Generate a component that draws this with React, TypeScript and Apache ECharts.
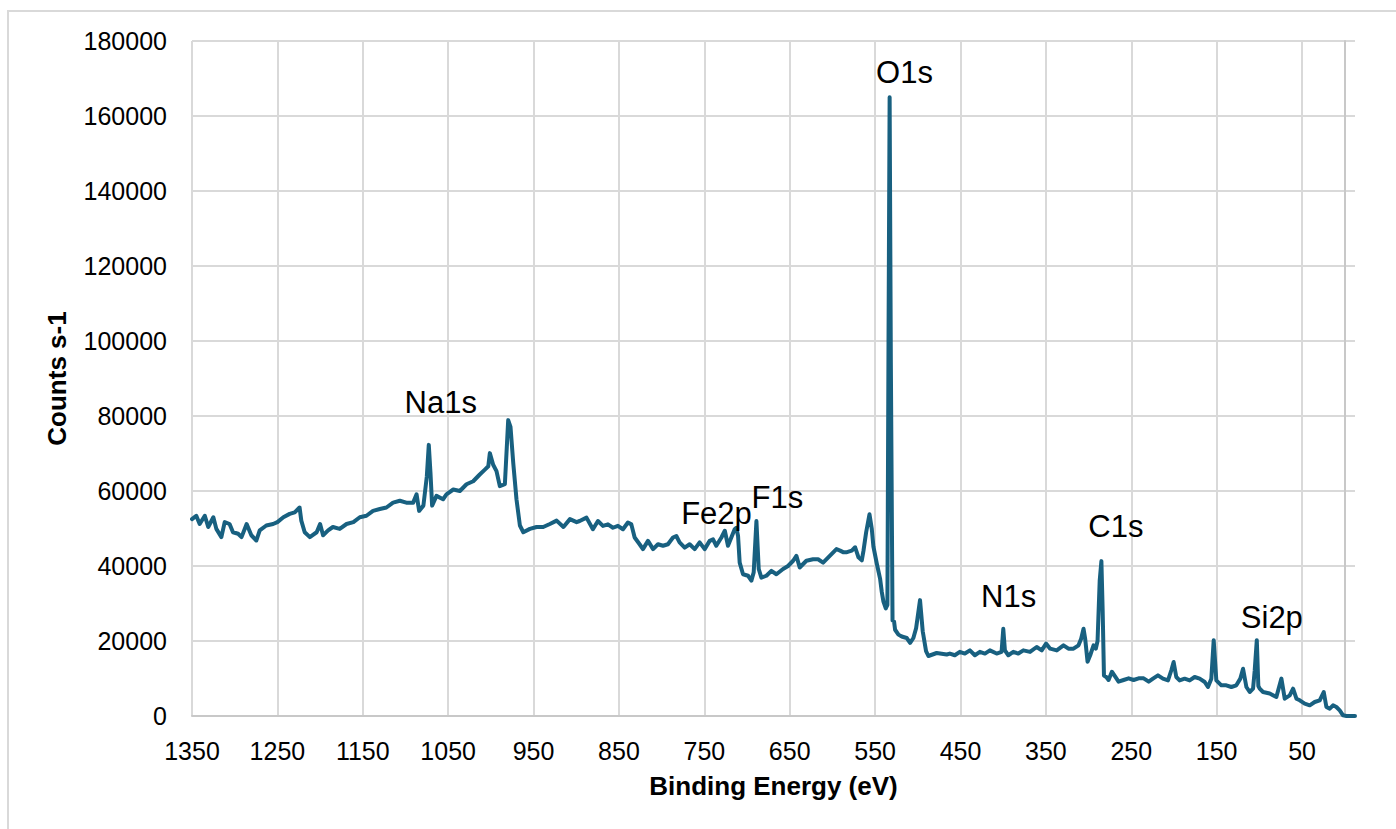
import { useEffect, useRef } from "react";
import * as echarts from "echarts";

// Binding energy (eV) and counts per second
const energyEV = [
  1350, 1345, 1341, 1335, 1331, 1325, 1321.5, 1315.6, 1311.7, 1306, 1302, 1296, 1292, 1286, 1280.5,
  1274.6, 1270.7, 1263, 1255, 1250, 1243, 1235.6, 1229.7, 1224, 1222, 1218, 1212, 1204, 1200, 1196.5,
  1190.6, 1185, 1177, 1169, 1161, 1153.5, 1145.7, 1138, 1130, 1122.3, 1114.5, 1106.6, 1099, 1091, 1087,
  1084, 1079, 1075, 1072.7, 1070.7, 1068.8, 1063.7, 1056, 1052, 1044, 1036.3, 1028.5, 1020.7, 1013, 1007,
  1003, 1001.2, 997.3, 993.4, 989.5, 983.6, 979.7, 977, 973.8, 970, 966, 962, 954.3, 946.5, 938.7,
  930.9, 923, 915, 907.4, 899.6, 896, 888, 880.5, 874.6, 868.75, 862.9, 857, 851.2, 845.3, 839.5,
  835.5, 831.6, 825.8, 821.9, 816, 810, 804.3, 798.4, 792.6, 786.7, 782.8, 779, 773, 767.2, 761.3,
  755.5, 749.6, 743.75, 739.8, 736, 730, 726, 722.3, 718.4, 714.5, 712.5, 710.5, 708.6, 704.7, 698.8,
  694.9, 692.2, 689, 686.3, 683.2, 677.3, 671.5, 665.6, 657.8, 651.95, 646, 642.2, 638.3, 630.5, 622.7,
  616.8, 610.9, 603.1, 595.3, 591, 587.5, 583, 577.3, 573.4, 569.5, 565.6, 563.6, 560.5, 556.6, 553.9,
  552, 548, 544.2, 542.2, 540.25, 537.5, 535.6, 534.3, 533, 531.6, 529.6, 527.8, 526.6, 522.7, 518.8,
  513, 509, 505.2, 502, 497.4, 494.25, 490.35, 487.6, 477.9, 466.2, 462.5, 456.7, 450.8, 444.9, 439,
  433.2, 427.3, 421.4, 415.6, 407.7, 401.9, 399.9, 398, 394, 388.2, 382.3, 376.4, 368.6, 360.8, 354.9,
  349.8, 345, 337.3, 329.4, 323.6, 317.7, 311.8, 308.7, 305.9, 304, 301.2, 298.1, 294.2, 291.5, 289.5,
  287, 285, 283.5, 282, 279.3, 276.6, 272.7, 268.8, 264.9, 259, 253.1, 247.3, 241.4, 235.5, 229.6,
  224.6, 218.75, 212.9, 207, 203.1, 200.4, 197.3, 193.4, 187.5, 181.6, 175.8, 169.9, 164, 160.2, 156.25,
  153.5, 150.4, 144.5, 138.7, 132.8, 127, 122.3, 119.1, 115.2, 111.3, 107.4, 105.5, 103, 101.2, 99.6,
  95.7, 87.9, 80.1, 74.2, 70.3, 64.45, 60.5, 56.6, 52.7, 46.9, 41, 35.2, 29.3, 24.6, 21.5,
  17.6, 13.7, 9.8, 5.9, 2, -2, -12,
];

const countsPerSecond = [
  52500, 53400, 51200, 53400, 50400, 53000, 49900, 47700, 51700, 51200, 49000, 48600, 47700, 51200, 48200,
  46800, 49500, 50800, 51200, 51700, 53000, 53900, 54300, 55600, 52100, 49000, 47700, 49000, 51200, 48200,
  49500, 50400, 49900, 51200, 51700, 53000, 53400, 54700, 55200, 55600, 56900, 57400, 56900, 56900, 59100,
  54700, 56100, 63900, 72300, 64800, 56100, 58700, 57800, 59100, 60400, 60000, 61800, 62600, 64400, 65700,
  66600, 70100, 67000, 65300, 61300, 61800, 78900, 77100, 67500, 57800, 50800, 49000, 49900, 50400, 50400,
  51200, 52100, 50400, 52500, 51700, 52000, 52900, 49800, 52000, 50700, 51100, 50200, 50700, 49800, 51600,
  51100, 47600, 45800, 44500, 46700, 44500, 45800, 45400, 45800, 47600, 48000, 46300, 44900, 45800, 44500,
  46300, 44500, 46700, 47100, 45400, 47600, 49400, 45400, 47600, 49800, 50200, 48000, 40900, 37800, 37400,
  36100, 38300, 52000, 39200, 36900, 37400, 38700, 37800, 39200, 40000, 41400, 42700, 39600, 41400, 41800,
  41800, 40900, 42700, 44500, 44100, 43700, 43700, 44100, 45000, 42300, 41500, 44100, 49000, 53800, 49900,
  45200, 40600, 36650, 33100, 30500, 28700, 29600, 100000, 165000, 95000, 25500, 25200, 23000, 21700, 21200,
  20800, 19500, 20800, 23400, 30900, 22600, 17300, 16000, 16800, 16400, 16650, 16200, 17100, 16650, 17500,
  16200, 17100, 16650, 17500, 16650, 17100, 23260, 17500, 16200, 17100, 16650, 17500, 17100, 18400, 17500,
  19300, 17950, 17500, 18850, 17950, 17950, 18850, 20600, 23260, 20600, 14450, 16200, 18850, 17950, 20000,
  36000, 41300, 28000, 10800, 10400, 9600, 11800, 10500, 9150, 9600, 10050, 9600, 10050, 10050, 9150,
  9960, 10850, 9960, 9500, 12200, 14400, 10400, 9500, 9960, 9500, 10400, 9960, 9070, 7730, 9960,
  20200, 9500, 8180, 8180, 7730, 8180, 9960, 12600, 7730, 6400, 7290, 12000, 20200, 8000, 7290,
  6400, 6000, 5070, 9960, 4620, 5510, 7290, 4620, 4180, 3290, 2850, 3730, 4180, 6400, 2400,
  1960, 2850, 2400, 1510, 180, 0, 0,
];

const xTickValues = [1350, 1250, 1150, 1050, 950, 850, 750, 650, 550, 450, 350, 250, 150, 50];

// Peak annotations, anchored in data coordinates (eV, counts)
const peakNames = ["Na1s", "O1s", "Fe2p", "F1s", "N1s", "C1s", "Si2p"];
const peakLabelEV = [1058.7, 515.6, 735.8, 664.4, 393.7, 268.1, 85.4];
const peakLabelCounts = [83700, 171600, 54100, 58300, 31800, 50600, 26300];

export default function App() {
  const ref = useRef<HTMLDivElement>(null);
  useEffect(() => {
    if (!ref.current) return;
    const chart = echarts.init(ref.current, null, { renderer: "svg" });
    const font = "'Liberation Sans', Arial, Helvetica, sans-serif";
    chart.setOption({
      animation: false,
      backgroundColor: "#ffffff",
      textStyle: { fontFamily: font },
      graphic: [
        {
          type: "rect",
          silent: true,
          shape: { x: 8, y: 11, width: 1500, height: 1000 },
          style: { fill: "none", stroke: "#d9d9d9", lineWidth: 2 },
        },
      ],
      grid: { left: 192, right: 41, top: 41, bottom: 113, containLabel: false, outerBoundsMode: "none" },
      xAxis: {
        type: "value",
        inverse: true,
        min: -12,
        max: 1350,
        name: "Binding Energy (eV)",
        nameLocation: "middle",
        nameGap: 57,
        nameTextStyle: { fontSize: 26, fontWeight: "bold", color: "#000", fontFamily: font },
        axisLine: { show: true, onZero: false, lineStyle: { color: "#c8c8c8", width: 2 } },
        axisTick: { show: false, customValues: xTickValues },
        axisLabel: {
          customValues: xTickValues,
          fontSize: 25,
          color: "#000",
          margin: 22,
          fontFamily: font,
          formatter: (v: number) => String(v),
        },
        splitLine: { show: true, lineStyle: { color: "#d9d9d9", width: 2 } },
      },
      yAxis: {
        type: "value",
        min: 0,
        max: 180000,
        interval: 20000,
        name: "Counts s-1",
        nameLocation: "middle",
        nameGap: 122,
        nameTextStyle: { fontSize: 26, fontWeight: "bold", color: "#000", fontFamily: font },
        axisLine: { show: true, lineStyle: { color: "#c8c8c8", width: 2 } },
        axisTick: { show: false },
        axisLabel: {
          fontSize: 25,
          color: "#000",
          margin: 25,
          fontFamily: font,
          formatter: (v: number) => String(v),
        },
        splitLine: { show: true, lineStyle: { color: "#d9d9d9", width: 2 } },
      },
      series: [
        {
          type: "line",
          data: energyEV.map((e, i) => [e, countsPerSecond[i]]),
          showSymbol: false,
          symbol: "none",
          silent: true,
          lineStyle: { color: "#186080", width: 4, join: "round", cap: "round" },
          itemStyle: { color: "#186080" },
          z: 3,
        },
        {
          type: "scatter",
          silent: true,
          symbolSize: 1,
          itemStyle: { color: "rgba(255,255,255,0)" },
          data: peakNames.map((n, i) => ({ name: n, value: [peakLabelEV[i], peakLabelCounts[i]] })),
          label: {
            show: true,
            position: "inside",
            formatter: "{b}",
            fontSize: 31,
            color: "#000000",
            textBorderWidth: 0,
            textBorderColor: "transparent",
            opacity: 1,
            fontFamily: font,
          },
          z: 4,
        },
      ],
    });
    return () => chart.dispose();
  }, []);
  return (
    <div
      ref={ref}
      style={{ position: "fixed", left: 0, top: 0, width: 1396, height: 829, background: "#fff" }}
    />
  );
}
